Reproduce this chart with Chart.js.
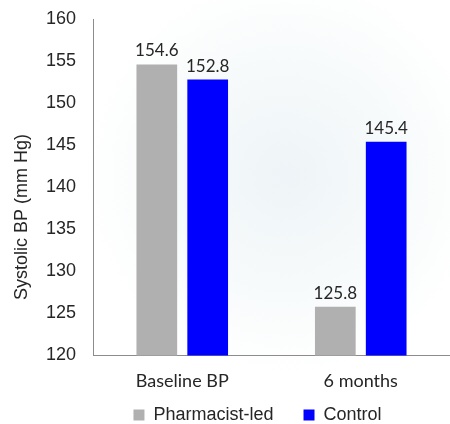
<!DOCTYPE html>
<html>
<head>
<meta charset="utf-8">
<script src="https://cdn.jsdelivr.net/npm/chart.js@4"></script>
<style>
  html, body { margin: 0; padding: 0; }
  body {
    width: 450px; height: 424px; overflow: hidden;
    background: radial-gradient(circle at 285px 175px, #eef4f7 0px, #f5f9fa 90px, #ffffff 200px);
  }
  #wrap { position: relative; width: 450px; height: 424px; }
</style>
</head>
<body>
<div id="wrap"><canvas id="bp"></canvas></div>
<script>
// Systolic blood pressure, baseline vs. 6 months
const categories = ['Baseline BP', '6 months'];
const pharmacistLed = [154.6, 125.8];
const control = [152.8, 145.4];
const seriesNames = ['Pharmacist-led', 'Control'];
const yTicks = [120, 125, 130, 135, 140, 145, 150, 155, 160];
const yTitle = 'Systolic BP (mm Hg)';

const textColor = '#262626';
const axisColor = '#8c8c8c';

// value labels above each bar
const barValueLabels = {
  id: 'barValueLabels',
  afterDatasetsDraw(chart) {
    const ctx = chart.ctx;
    ctx.save();
    ctx.font = '17px Lato, "Liberation Sans", sans-serif';
    ctx.fillStyle = textColor;
    ctx.textAlign = 'center';
    ctx.textBaseline = 'alphabetic';
    chart.data.datasets.forEach((ds, i) => {
      const meta = chart.getDatasetMeta(i);
      meta.data.forEach((bar, j) => {
        ctx.fillText(ds.data[j].toFixed(1), bar.x, bar.y - 8);
      });
    });
    ctx.restore();
  }
};

// rotated y-axis title
const yAxisTitle = {
  id: 'yAxisTitle',
  afterDraw(chart) {
    const ctx = chart.ctx;
    ctx.save();
    ctx.translate(22, 217);
    ctx.rotate(-Math.PI / 2);
    ctx.font = '18px "Liberation Sans", Arial, sans-serif';
    ctx.fillStyle = textColor;
    ctx.textAlign = 'center';
    ctx.textBaseline = 'middle';
    ctx.fillText(yTitle, 0, 0);
    ctx.restore();
  }
};

// nudge the legend block right and up, just below the category labels
const legendOffset = {
  id: 'legendOffset',
  afterLayout(chart) {
    const lg = chart.legend;
    if (!lg) return;
    const dx = 31, dy = -19.5;
    lg.left += dx; lg.right += dx;
    lg.top += dy; lg.bottom += dy;
  }
};

new Chart(document.getElementById('bp'), {
  type: 'bar',
  data: {
    labels: categories,
    datasets: [
      { label: seriesNames[0], data: pharmacistLed, backgroundColor: '#b0b0b0',
        barPercentage: 0.8, categoryPercentage: 0.57 },
      { label: seriesNames[1], data: control, backgroundColor: '#0000ff',
        barPercentage: 0.8, categoryPercentage: 0.57 }
    ]
  },
  options: {
    responsive: true,
    maintainAspectRatio: false,
    animation: false,
    layout: { padding: { top: 19, right: -3, bottom: -29.5, left: 0 } },
    plugins: {
      legend: {
        position: 'bottom',
        labels: {
          boxWidth: 11, boxHeight: 11, padding: 30,
          color: textColor,
          font: { family: '"Liberation Sans", Arial, sans-serif', size: 18 }
        }
      },
      tooltip: { enabled: false }
    },
    scales: {
      x: {
        afterFit(scale) { scale.height = 40; },
        grid: { display: false, drawTicks: false },
        border: { display: true, color: axisColor, width: 1 },
        ticks: {
          color: textColor, padding: 15,
          font: { family: 'Lato, "Liberation Sans", sans-serif', size: 18 }
        }
      },
      y: {
        min: 120, max: 160,
        afterBuildTicks(scale) { scale.ticks = yTicks.map(v => ({ value: v })); },
        afterFit(scale) { scale.width = 93; scale.paddingTop = 0; scale.paddingBottom = 0; },
        grid: { display: false, drawTicks: false },
        border: { display: true, color: axisColor, width: 1 },
        ticks: {
          color: textColor, padding: 17,
          font: { family: '"Liberation Sans", Arial, sans-serif', size: 18 }
        }
      }
    }
  },
  plugins: [barValueLabels, yAxisTitle, legendOffset]
});
</script>
</body>
</html>
